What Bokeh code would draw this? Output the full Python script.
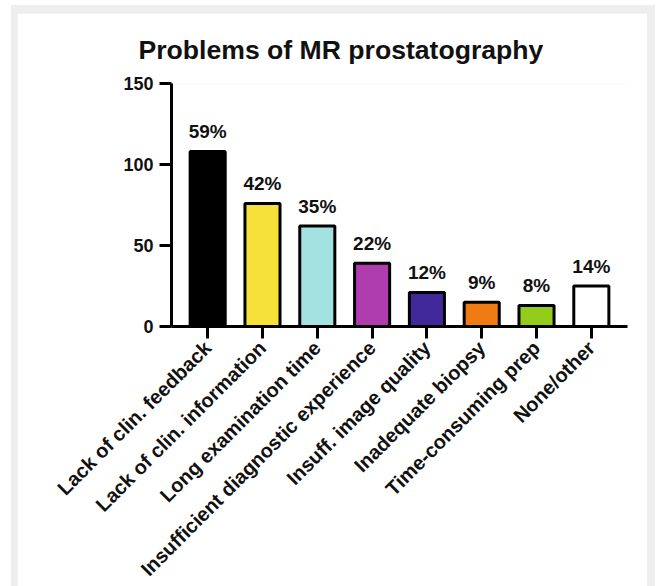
from bokeh.plotting import figure
from bokeh.models import ColumnDataSource, FactorRange, Range1d
from bokeh.layouts import column
from bokeh.core.properties import value
from bokeh.embed import file_html
from bokeh.resources import INLINE
import math

# Survey responses: reported problems of MR prostatography
categories = [
    "Lack of clin. feedback",
    "Lack of clin. information",
    "Long examination time",
    "Insufficient diagnostic experience",
    "Insuff. image quality",
    "Inadequate biopsy",
    "Time-consuming prep",
    "None/other",
]
counts = [108, 76, 62, 39, 21, 15, 13, 25]
percent_labels = ["59%", "42%", "35%", "22%", "12%", "9%", "8%", "14%"]
bar_colors = ["#000000", "#F6E03A", "#A3E2E0", "#B03DAE",
              "#40279A", "#F07B12", "#93CC1A", "#FFFFFF"]
y_ticks = [0, 50, 100, 150]

FONT = "Liberation Sans"

source = ColumnDataSource(data=dict(
    cat=categories, count=counts, pct=percent_labels, color=bar_colors,
))

p = figure(
    x_range=FactorRange(*categories, range_padding=0.16, range_padding_units="absolute"),
    y_range=Range1d(0, 150),
    frame_width=456, frame_height=243,
    min_border_left=154, min_border_right=20,
    min_border_top=70, min_border_bottom=256,
    output_backend="svg", toolbar_location=None,
    title="Problems of MR prostatography",
)
p.border_fill_color = "white"
p.background_fill_color = "white"
p.outline_line_color = None
p.xgrid.visible = False
p.ygrid.visible = False

p.title.text_font = FONT
p.title.text_font_size = "26.6px"
p.title.text_font_style = "bold"
p.title.text_color = "#111111"
p.title.align = "left"
p.title.offset = -33
p.title.standoff = 38

p.vbar(x="cat", top="count", width=0.64, bottom=0, source=source,
       fill_color="color", line_color="black", line_width=3)

p.text(x="cat", y="count", text="pct", source=source,
       text_font=value(FONT), text_font_size="19px", text_font_style="bold",
       text_color="#111111", text_align="center", text_baseline="alphabetic",
       y_offset=-20)

for ax in (p.xaxis[0], p.yaxis[0]):
    ax.axis_line_width = 3
    ax.axis_line_color = "black"
    ax.major_tick_line_width = 3
    ax.major_tick_line_color = "black"
    ax.major_tick_out = 12
    ax.major_tick_in = 0
    ax.minor_tick_line_color = None
    ax.major_label_text_font = FONT
    ax.major_label_text_font_style = "bold"
    ax.major_label_text_color = "#111111"

p.yaxis.ticker = y_ticks
p.yaxis.major_label_text_font_size = "18px"
p.yaxis.major_label_standoff = 6

p.xaxis.major_label_text_font_size = "20px"
p.xaxis.major_label_orientation = math.pi / 4
p.xaxis.major_label_standoff = 6

# light grey frame around the white chart panel
framed = column(p, styles={"background-color": "#eeeeee",
                           "padding": "8px 8px 4px 6px"})
root = column(framed, styles={"background-color": "white",
                              "padding": "5px 2px 0px 11px"})

open("out.html", "w").write(file_html(root, INLINE))
